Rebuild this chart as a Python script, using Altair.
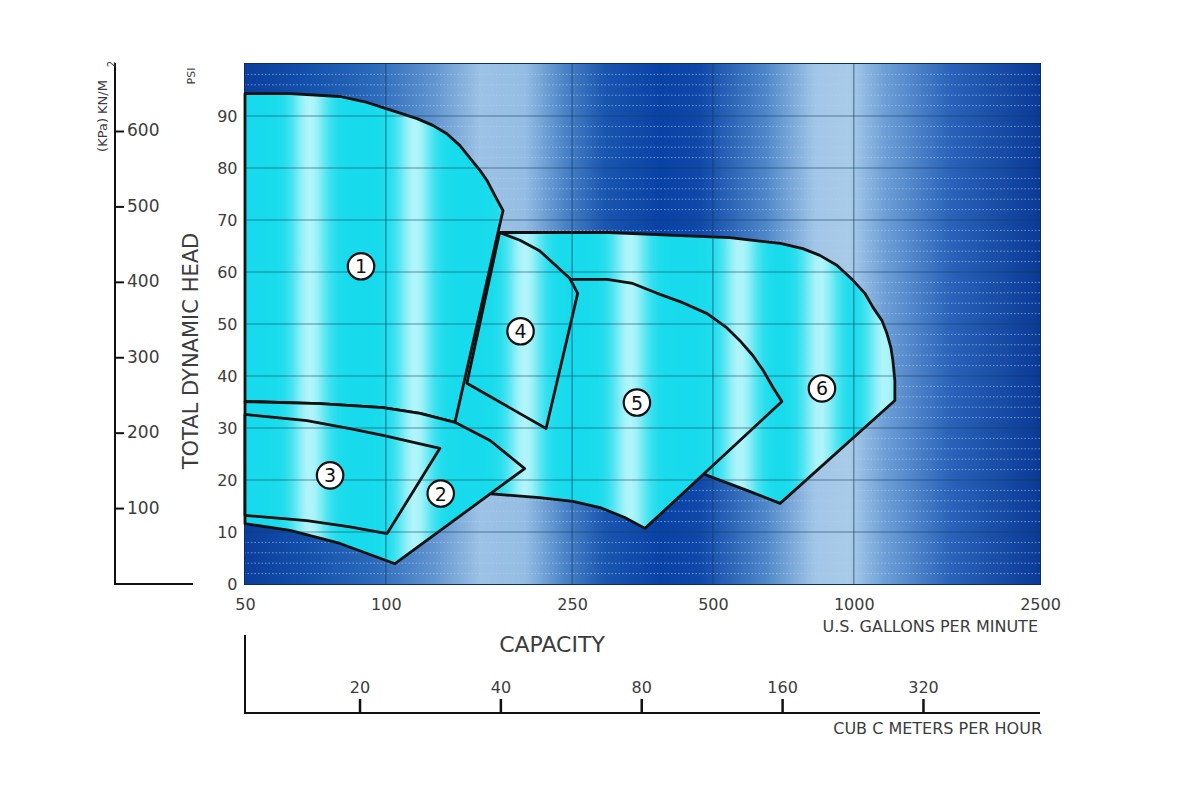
import math
import altair as alt
import pandas as pd

# ---------------- data ----------------
gpm_ticks = [50, 100, 250, 500, 1000, 2500]
psi_ticks = [0, 10, 20, 30, 40, 50, 60, 70, 80, 90]
grid_gpm = [100, 250, 500, 1000]
grid_psi = [10, 20, 30, 40, 50, 60, 70, 80, 90]
minor_psi = [v for v in range(2, 100, 2) if v % 10 != 0]
kpa_ticks = [100, 200, 300, 400, 500, 600]
m3h_ticks = [20, 40, 80, 160, 320]

KPA_PER_PSI = 6.895
GPM_PER_M3H = 4.4029

r1_gpm = [50, 62.4, 79.8, 91.2, 98.6, 116.6, 126, 135, 144, 151, 159, 164.5, 171, 178,
          173.6, 140.5, 118.3, 98.6, 72.3, 50]
r1_psi = [94.3, 94.3, 93.75, 92.6, 91.6, 89.5, 88.2, 86.6, 84.3, 82.0, 79.5, 77.6, 74.7, 71.8,
          67.6, 31.1, 32.8, 33.9, 34.7, 35.1]

r2_gpm = [50, 72.3, 98.6, 118.3, 140.5, 167, 198, 104.6, 79.8, 62.4, 50]
r2_psi = [35.1, 34.7, 33.9, 32.8, 31.1, 27.6, 22.2, 3.9, 7.8, 10.3, 11.6]

r3_gpm = [50, 67.8, 83.8, 98.6, 130.5, 100.6, 83.8, 67.8, 50]
r3_psi = [32.6, 31.4, 29.9, 28.6, 26.1, 9.7, 11.0, 12.2, 13.2]

r4_gpm = [175, 193.5, 213, 247, 257, 220, 149]
r4_psi = [67.6, 66.1, 64.1, 58.8, 55.9, 29.9, 38.6]

r5_gpm = [213, 251, 297, 337, 380, 431, 486, 535, 571, 609, 640, 672, 702,
          358, 324, 287, 251, 213, 160, 135, 146]
r5_psi = [58.4, 58.6, 58.6, 57.8, 55.9, 54.1, 52.0, 49.3, 46.8, 43.9, 41.1, 37.8, 35.1,
          10.7, 12.8, 14.7, 15.9, 16.6, 17.5, 30.0, 45.0]

r6_gpm = [175, 300, 425, 543, 696, 778, 846, 920, 996, 1056, 1099, 1148, 1177, 1200, 1212,
          1224, 1224, 696, 591, 486, 470, 300, 200]
r6_psi = [67.6, 67.6, 67.0, 66.6, 65.5, 64.5, 63.2, 61.3, 58.4, 55.9, 53.2, 50.7, 48.2, 45.5, 43.0,
          39.1, 35.3, 15.5, 18.0, 20.9, 21.5, 35.0, 50.0]

label_gpm = [88.5, 131, 76, 194, 344, 855]
label_psi = [61.1, 17.4, 20.9, 48.6, 34.9, 37.6]
label_text = ["1", "2", "3", "4", "5", "6"]

# ---------------- styling ----------------
W, H = 795, 520
FONT = "DejaVu Sans"
TXT = "#3c3c3c"


def px_of(g):
    return W * math.log10(g / 50) / math.log10(2500 / 50)


def rgb(h):
    return tuple(int(h[i:i + 2], 16) for i in (1, 3, 5))


def mix(a, b, t):
    ra, rb = rgb(a), rgb(b)
    return "#%02x%02x%02x" % tuple(round(ra[i] + (rb[i] - ra[i]) * t) for i in range(3))


CYAN = "#17dbec"
CYAN_LIGHT = "#b2f5fa"
stripes = [65, 170, 280, 385, 495, 575, 640]


def cyan_gradient(gpms):
    x0, x1 = px_of(min(gpms)), px_of(max(gpms))
    n = 60
    stops = []
    for i in range(n + 1):
        t = i / n
        x = x0 + t * (x1 - x0)
        k = max(math.exp(-((x - c) / 17.0) ** 2) for c in stripes)
        stops.append(alt.GradientStop(offset=t, color=mix(CYAN, CYAN_LIGHT, k)))
    return alt.Gradient(gradient="linear", x1=0, x2=1, y1=0, y2=0, stops=stops)


bg_px = [0, 60, 130, 190, 235, 280, 320, 360, 415, 455, 520, 570, 605, 640, 705, 795]
bg_col = ["#0b3e9c", "#1350ab", "#2c6abb", "#6396d0", "#9cc2e5", "#95bde3", "#4a83c6",
          "#1a55b0", "#0942a5", "#0f48a9", "#4d86c8", "#a2c6e7", "#a9cbe9", "#6d9fd6",
          "#2a63b9", "#0a3a96"]
bg_grad = alt.Gradient(gradient="linear", x1=0, x2=1, y1=0, y2=0,
                       stops=[alt.GradientStop(offset=p / W, color=c) for p, c in zip(bg_px, bg_col)])

xscale = alt.Scale(type="log", domain=[50, 2500], nice=False)
yscale = alt.Scale(domain=[0, 100], nice=False, zero=False)
xaxis = alt.Axis(values=gpm_ticks, format="d", ticks=False, tickSize=0, domain=False, grid=False,
                 labelPadding=12, labelFontSize=16, labelColor=TXT, labelFont=FONT, title=None,
                 labelFlush=False, labelOverlap=False)
yaxis = alt.Axis(values=psi_ticks, ticks=False, tickSize=0, domain=False, grid=False,
                 labelPadding=8, labelFontSize=16, labelColor=TXT, labelFont=FONT, title=None,
                 labelOverlap=False)


def X():
    return alt.X("gpm:Q", scale=xscale, axis=xaxis)


def Y():
    return alt.Y("psi:Q", scale=yscale, axis=yaxis)


one = pd.DataFrame({"a": [0]})
layers = []

# background
layers.append(alt.Chart(one).mark_rect(fill=bg_grad).encode(
    x=alt.value(0), x2=alt.value(W), y=alt.value(0), y2=alt.value(H)))

# minor dotted lines
layers.append(alt.Chart(pd.DataFrame({"psi": minor_psi})).mark_rule(
    color="#b0d2f2", opacity=0.6, strokeWidth=1, strokeDash=[1.5, 2]).encode(y=Y()))

# regions (back to front)
for g, p in [(r6_gpm, r6_psi), (r5_gpm, r5_psi), (r4_gpm, r4_psi),
             (r1_gpm, r1_psi), (r2_gpm, r2_psi), (r3_gpm, r3_psi)]:
    df = pd.DataFrame({"gpm": g, "psi": p, "i": list(range(len(g)))})
    layers.append(alt.Chart(df).mark_line(
        interpolate="linear-closed", fill=cyan_gradient(g), stroke="#111111",
        strokeWidth=2.8, strokeJoin="round").encode(x=X(), y=Y(), order="i:Q"))

# major grid
layers.append(alt.Chart(pd.DataFrame({"psi": grid_psi})).mark_rule(
    color="#0e3a58", opacity=0.55, strokeWidth=1.2).encode(y=Y()))
layers.append(alt.Chart(pd.DataFrame({"gpm": grid_gpm})).mark_rule(
    color="#0e3a58", opacity=0.55, strokeWidth=1.2).encode(x=X()))

# region labels
lab = pd.DataFrame({"gpm": label_gpm, "psi": label_psi, "t": label_text})
layers.append(alt.Chart(lab).mark_circle(
    color="white", opacity=1, stroke="#111111", strokeWidth=2.2, size=700).encode(x=X(), y=Y()))
layers.append(alt.Chart(lab).mark_text(
    fontSize=19, font=FONT, color="#111111", baseline="middle", dy=1).encode(x=X(), y=Y(), text="t:N"))

# KPa secondary axis
kdf = pd.DataFrame({"kpa": kpa_ticks})
kdf["psi"] = kdf["kpa"] / KPA_PER_PSI
layers.append(alt.Chart(one).mark_rule(color="#111111", strokeWidth=2).encode(
    x=alt.value(-130), y=alt.value(-1), y2=alt.value(H)))
layers.append(alt.Chart(one).mark_rule(color="#111111", strokeWidth=2).encode(
    x=alt.value(-131), x2=alt.value(-52), y=alt.value(H)))
layers.append(alt.Chart(kdf).mark_rule(color="#111111", strokeWidth=2).encode(
    y=Y(), x=alt.value(-130), x2=alt.value(-121)))
layers.append(alt.Chart(kdf).mark_text(align="left", baseline="middle", fontSize=17, font=FONT,
                                       color=TXT).encode(y=Y(), x=alt.value(-118), text="kpa:Q"))

# m3/h secondary axis
mdf = pd.DataFrame({"m3h": m3h_ticks})
mdf["gpm"] = mdf["m3h"] * GPM_PER_M3H
layers.append(alt.Chart(one).mark_rule(color="#111111", strokeWidth=2).encode(
    x=alt.value(-1), x2=alt.value(W), y=alt.value(H + 129)))
layers.append(alt.Chart(one).mark_rule(color="#111111", strokeWidth=2).encode(
    x=alt.value(0), y=alt.value(H + 51), y2=alt.value(H + 129)))
layers.append(alt.Chart(mdf).mark_rule(color="#111111", strokeWidth=2.5).encode(
    x=X(), y=alt.value(H + 115), y2=alt.value(H + 129)))
layers.append(alt.Chart(mdf).mark_text(baseline="middle", fontSize=16, font=FONT, color=TXT).encode(
    x=X(), y=alt.value(H + 104), text="m3h:Q"))


# titles / annotations
def label(t, x, y, size, angle=0, align="center"):
    return alt.Chart(pd.DataFrame({"t": [t]})).mark_text(
        fontSize=size, font=FONT, color=TXT, angle=angle, align=align, baseline="middle").encode(
        x=alt.value(x), y=alt.value(y), text="t:N")


layers.append(label("PSI", -53, 12, 11, angle=270))
layers.append(label("TOTAL DYNAMIC HEAD", -53, 287, 21, angle=270))
layers.append(label("(KPa) KN/M", -142, 52, 13, angle=270))
layers.append(label("2", -133, 0, 10, angle=270))
layers.append(label("CAPACITY", 307, 581, 22))
layers.append(label("U.S. GALLONS PER MINUTE", 793, 563, 16, align="right"))
layers.append(label("CUB C METERS PER HOUR", 797, 665, 16, align="right"))

chart = alt.layer(*layers).properties(
    width=W, height=H,
    padding={"left": 237, "top": 56, "right": 150, "bottom": 200},
    autosize=alt.AutoSizeParams(type="none"),
).configure_view(stroke="#0b2c68", strokeWidth=2)

chart.save("out.html", embed_options={"renderer": "svg", "actions": False})
